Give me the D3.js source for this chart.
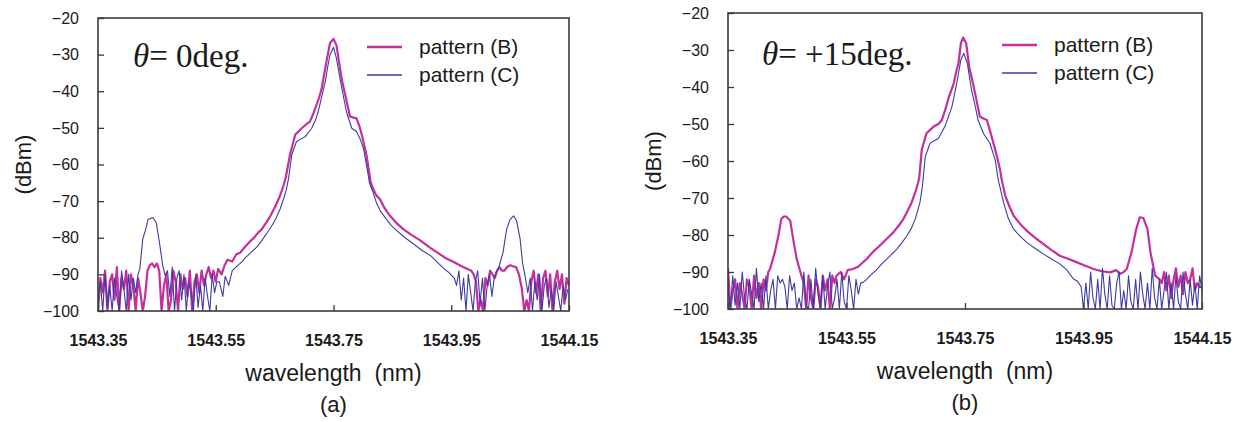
<!DOCTYPE html>
<html>
<head>
<meta charset="utf-8">
<script src="https://cdn.jsdelivr.net/npm/d3@7"></script>
<style>
  body { margin: 0; background: #fff; }
  text { font-family: "Liberation Sans", Arial, sans-serif; fill: #1a1a1a; }
</style>
</head>
<body>
<div id="chart"></div>
<script>
// spectrum samples (nm, dBm)
// noise bursts are written as runs of readings taken every 0.004 nm
var STEP = 0.004;
function run(start, vals) {
    return vals.map((v, i) => [start + i * STEP, v]);
}

var xTicks = [1543.35, 1543.55, 1543.75, 1543.95, 1544.15];
var yTicks = [-20, -30, -40, -50, -60, -70, -80, -90, -100];
var seriesNames = ["pattern (B)", "pattern (C)"];
var panelTitles = ["0deg.", "+15deg."];
var panelTags = ["(a)", "(b)"];

// (a) theta = 0 deg, pattern (B)
var aB = [].concat(
    run(1543.350, [-100,-91,-95,-89,-100,-92,-90,-97,-88,-100,-91,-94,-89,-100,-90,-93,-100,-91]),
    run(1543.422, [-95,-100,-96,-89,-87.5,-87,-88,-87,-89,-100,-93]),
    run(1543.466, [-90,-100,-97,-89,-92,-100,-90,-94,-91,-96,-89,-100,-92,-90,-95,-89,-93,-90,-88,-91,-89,-92]),
    [[1543.554,-88.5],[1543.560,-90],[1543.565,-87.5],[1543.570,-86],[1543.578,-86.5],[1543.585,-84.5],
     [1543.592,-84],[1543.599,-82.6],[1543.607,-81.2],[1543.615,-80],[1543.622,-78.6],[1543.628,-77.7],
     [1543.636,-75.8],[1543.643,-74],[1543.651,-71.5],[1543.659,-68.6],[1543.665,-65.8],[1543.669,-63.5],
     [1543.676,-57.4],[1543.685,-51.9],[1543.696,-50.1],[1543.704,-49],[1543.710,-48.3],[1543.716,-46],
     [1543.721,-43.8],[1543.726,-41.5],[1543.730,-39.2],[1543.734,-35.5],[1543.738,-31.9],[1543.744,-26.9],
     [1543.750,-25.7],[1543.755,-27.4],[1543.761,-33.7],[1543.765,-37.5],[1543.770,-41],[1543.778,-46.9],
     [1543.784,-47.2],[1543.789,-47.4],[1543.794,-49.5],[1543.798,-51.9],[1543.806,-57.4],[1543.813,-64.7],
     [1543.817,-66.5],[1543.823,-68.5],[1543.829,-69.5],[1543.837,-72],[1543.846,-74],[1543.857,-76],
     [1543.869,-77.7],[1543.883,-79.3],[1543.898,-80.8],[1543.912,-82.5],[1543.926,-84],[1543.940,-85.5],
     [1543.955,-86.7],[1543.970,-88],[1543.984,-89]],
    run(1543.988, [-90,-92,-100,-97,-100,-91,-93,-89,-90,-91,-89,-88,-89]),
    [[1544.040,-89],[1544.045,-88],[1544.050,-87.5],[1544.055,-87.8],[1544.060,-88],[1544.065,-90],[1544.070,-94]],
    run(1544.074, [-100,-97,-100,-92,-89,-95,-90,-100,-91,-89,-96,-90,-100,-92,-89,-94,-90,-98,-91,-93])
);

// (a) theta = 0 deg, pattern (C)
var aC = [].concat(
    run(1543.350, [-97,-92,-100,-90,-99,-93,-100,-91,-96,-100,-89,-94,-100,-90,-97,-91,-95,-90]),
    [[1543.421,-88.5],[1543.426,-80.4],[1543.431,-77.7],[1543.435,-75],[1543.443,-74.5],[1543.449,-75.9],
     [1543.455,-82],[1543.460,-87.6],[1543.464,-90.3]],
    run(1543.468, [-89,-96,-88,-100,-91,-89,-97,-90,-100,-92,-95,-100,-90,-99,-93,-100,-91,-96,-100,-90,-95,-92]),
    [[1543.556,-92],[1543.562,-96],[1543.566,-90.5],[1543.572,-93],[1543.578,-89],[1543.587,-87.6],
     [1543.595,-86.5],[1543.600,-85.5],[1543.610,-84],[1543.620,-82.5],[1543.628,-80.8],[1543.638,-78.5],
     [1543.645,-76.8],[1543.652,-74.8],[1543.659,-72.3],[1543.665,-69.5],[1543.670,-66.8],[1543.674,-63.5],
     [1543.679,-57.4],[1543.687,-53.8],[1543.695,-53],[1543.702,-52.4],[1543.713,-50.1],[1543.719,-48],
     [1543.724,-45.6],[1543.730,-41.5],[1543.736,-37.4],[1543.740,-33.5],[1543.744,-30.1],[1543.750,-28],
     [1543.755,-31],[1543.762,-37.4],[1543.767,-41.5],[1543.772,-45.6],[1543.781,-50.1],[1543.789,-51],
     [1543.795,-53],[1543.801,-55.6],[1543.809,-62.9],[1543.811,-65],[1543.817,-67.5],[1543.823,-70.5],
     [1543.830,-72.8],[1543.840,-75],[1543.848,-76.6],[1543.857,-78],[1543.870,-79.8],[1543.886,-81.7],
     [1543.900,-83.4],[1543.915,-84.9],[1543.927,-86.8],[1543.938,-88.5],[1543.946,-89.5],[1543.955,-91]],
    run(1543.959, [-93,-89,-97,-91,-100,-90,-95,-100,-92,-89,-98,-91,-100,-93,-90,-96,-91,-89]),
    [[1544.030,-88.5],[1544.038,-84],[1544.044,-77.7],[1544.050,-75],[1544.056,-74],[1544.061,-75.4],
     [1544.067,-80.4],[1544.071,-86.7],[1544.076,-91]],
    run(1544.080, [-95,-91,-100,-92,-97,-90,-100,-93,-91,-99,-94,-100,-92,-96,-100,-93,-97,-94])
);

// (b) theta = +15 deg, pattern (B)
var bB = [].concat(
    run(1543.350, [-89,-100,-95,-92,-100,-93,-96,-100,-92,-94,-100,-91,-97,-93,-100,-92,-95,-90]),
    [[1543.421,-89.2],[1543.429,-84.7],[1543.435,-80.2],[1543.440,-75.7],[1543.444,-75],[1543.448,-75],
     [1543.455,-76.1],[1543.460,-81.1],[1543.466,-86.5],[1543.474,-91]],
    run(1543.478, [-93,-100,-91,-97,-100,-92,-94,-100,-91,-95,-92,-100,-91,-93]),
    [[1543.533,-91],[1543.540,-90],[1543.546,-92],[1543.552,-89.5],[1543.561,-89.2],[1543.570,-88.5],
     [1543.577,-87.5],[1543.584,-86.5],[1543.595,-84.5],[1543.606,-82.9],[1543.618,-81],[1543.629,-79.3],
     [1543.638,-77.5],[1543.646,-75.7],[1543.653,-73.5],[1543.660,-71.2],[1543.666,-68.5],[1543.671,-65.8],
     [1543.673,-64.2],[1543.677,-57],[1543.685,-52.5],[1543.697,-50.7],[1543.705,-50],[1543.711,-48.9],
     [1543.717,-46],[1543.722,-43.1],[1543.731,-39],[1543.735,-36],[1543.739,-33.6],[1543.743,-28.2],
     [1543.747,-26.6],[1543.752,-28.2],[1543.757,-34.5],[1543.762,-38],[1543.767,-41.7],[1543.775,-48],
     [1543.781,-48.5],[1543.787,-48.9],[1543.795,-53.4],[1543.804,-58.8],[1543.809,-62.2],[1543.812,-65.1],
     [1543.818,-69.4],[1543.825,-72.3],[1543.832,-74.8],[1543.843,-77],[1543.854,-78.8],[1543.868,-80.7],
     [1543.882,-82.4],[1543.896,-84.1],[1543.910,-85.6],[1543.925,-86.5],[1543.939,-87.4],[1543.953,-88.3],
     [1543.967,-89.2],[1543.981,-89.8],[1543.995,-90.1],[1544.005,-89.5],[1544.012,-90.5],[1544.017,-90.1],
     [1544.023,-89.2],[1544.031,-84.7],[1544.039,-78.4],[1544.045,-75.2],[1544.051,-75.4],[1544.058,-78.4],
     [1544.063,-84.7],[1544.071,-91],[1544.078,-91.9]],
    run(1544.082, [-93,-90,-95,-91,-97,-92,-89,-94,-91,-96,-90,-93,-92,-89,-95,-93,-94,-94])
);

// (b) theta = +15 deg, pattern (C)
var bC = [].concat(
    run(1543.350, [-94,-100,-91,-99,-93,-100,-90,-97,-100,-92,-96,-100,-89,-98,-93,-100,-91,-100,-95,-92,
                   -100,-91,-93,-92,-94,-100,-91,-95,-93,-100,-97,-100,-90,-99,-100,-92,-100,-89,-96,-100,
                   -91,-100,-94,-90,-100,-97,-92,-100,-90,-98,-100,-91,-95,-100,-92,-96,-93]),
    [[1543.578,-92.8],[1543.584,-92],[1543.590,-91],[1543.600,-89.5],[1543.612,-87.4],[1543.624,-85.6],
     [1543.635,-83.8],[1543.644,-82],[1543.652,-80.2],[1543.660,-78],[1543.666,-75.7],[1543.670,-73.5],
     [1543.674,-71.2],[1543.678,-67],[1543.681,-62],[1543.683,-58.8],[1543.691,-55.2],[1543.698,-54.5],
     [1543.705,-53.9],[1543.716,-50.7],[1543.722,-48],[1543.728,-45.3],[1543.736,-39],[1543.743,-32.7],
     [1543.748,-30.9],[1543.754,-33.6],[1543.761,-40.8],[1543.767,-45],[1543.772,-48.9],[1543.781,-52.5],
     [1543.792,-55.2],[1543.801,-59.7],[1543.806,-65.1],[1543.809,-67],[1543.815,-71.2],[1543.823,-75.5],
     [1543.832,-78.4],[1543.843,-80.3],[1543.854,-82],[1543.868,-83.6],[1543.882,-85.1],[1543.896,-86.5],
     [1543.910,-87.8],[1543.922,-89.5],[1543.933,-91.9],[1543.940,-92.5],[1543.946,-94]],
    run(1543.950, [-100,-93,-100,-90,-97,-100,-92,-100,-89,-96,-100,-91,-99,-100,-93,-90,-100,-95,-100,-91,
                   -98,-100,-92,-100,-90,-96,-100,-93,-100,-89,-97,-100,-92,-100,-95,-90,-100,-93,-100,-91,
                   -98,-100,-90,-96,-100,-92,-99,-93,-100,-91,-95])
);

var colorB = "#c42f9c";
var colorC = "#3b3ba6";

var svgWidth = 1236;
var svgHeight = 422;

var svg = d3.select("#chart")
    .append("svg")
    .attr("width", svgWidth)
    .attr("height", svgHeight);

var panels = [
    {left: 98, right: 569, top: 18, bottom: 311, titleX: 133, titleY: 67, legX: 367, legY: 47, data: [aB, aC]},
    {left: 728, right: 1202, top: 13, bottom: 309, titleX: 762, titleY: 65, legX: 1002, legY: 45, data: [bB, bC]}
];

panels.forEach((p, k) => {
    var xScale = d3.scaleLinear()
        .domain([1543.35, 1544.15])
        .range([p.left, p.right]);
    var yScale = d3.scaleLinear()
        .domain([-100, -20])
        .range([p.bottom, p.top]);

    var g = svg.append("g");

    g.append("clipPath").attr("id", "clip" + k)
        .append("rect")
        .attr("x", p.left).attr("y", p.top)
        .attr("width", p.right - p.left).attr("height", p.bottom - p.top);

    var line = d3.line()
        .x(d => xScale(d[0]))
        .y(d => yScale(d[1]));

    var plot = g.append("g").attr("clip-path", `url(#clip${k})`);
    plot.append("path")
        .datum(p.data[0])
        .attr("d", line)
        .attr("fill", "none")
        .attr("stroke", colorB)
        .attr("stroke-width", 2.2)
        .attr("stroke-linejoin", "round");
    plot.append("path")
        .datum(p.data[1])
        .attr("d", line)
        .attr("fill", "none")
        .attr("stroke", colorC)
        .attr("stroke-width", 1.1)
        .attr("stroke-linejoin", "round");

    // frame
    g.append("rect")
        .attr("x", p.left).attr("y", p.top)
        .attr("width", p.right - p.left).attr("height", p.bottom - p.top)
        .attr("fill", "none")
        .attr("stroke", "#3a3a3a")
        .attr("stroke-width", 1.6);

    // axes, ticks pointing inwards
    var yAxis = d3.axisLeft(yScale)
        .tickValues(yTicks)
        .tickSizeInner(-6)
        .tickSizeOuter(0)
        .tickPadding(19)
        .tickFormat(d3.format("d"));
    var yg = g.append("g")
        .attr("transform", `translate(${p.left},0)`)
        .call(yAxis);
    yg.select(".domain").remove();
    yg.selectAll("line").attr("stroke", "#3a3a3a").attr("stroke-width", 1.3);
    yg.selectAll("text")
        .style("font-size", "16px")
        .style("font-family", "'Liberation Sans', Arial, sans-serif")
        .attr("fill", "#111");

    var xAxis = d3.axisBottom(xScale)
        .tickValues(xTicks)
        .tickSizeInner(-6)
        .tickSizeOuter(0)
        .tickPadding(24)
        .tickFormat(d3.format(".2f"));
    var xg = g.append("g")
        .attr("transform", `translate(0,${p.bottom})`)
        .call(xAxis);
    xg.select(".domain").remove();
    xg.selectAll("line").attr("stroke", "#3a3a3a").attr("stroke-width", 1.3);
    xg.selectAll("text")
        .style("font-size", "16px")
        .style("font-weight", "bold")
        .style("font-family", "'Liberation Sans', Arial, sans-serif")
        .attr("fill", "#111");

    // axis titles
    var cx = (p.left + p.right) / 2;
    g.append("text")
        .attr("transform", `translate(${p.left - 75},${(p.top + p.bottom) / 2}) rotate(-90)`)
        .attr("dy", "0.35em")
        .style("font-size", "22px")
        .style("text-anchor", "middle")
        .text("(dBm)");
    g.append("text")
        .attr("x", cx)
        .attr("y", p.bottom + 70)
        .style("font-size", "23px")
        .style("text-anchor", "middle")
        .style("white-space", "pre")
        .text("wavelength  (nm)");
    g.append("text")
        .attr("x", cx)
        .attr("y", p.bottom + 101)
        .style("font-size", "22px")
        .style("text-anchor", "middle")
        .text(panelTags[k]);

    // angle label
    var t = g.append("text")
        .attr("x", p.titleX)
        .attr("y", p.titleY)
        .style("font-family", "'Liberation Serif', 'Times New Roman', serif")
        .style("font-size", "33px")
        .style("white-space", "pre");
    t.append("tspan").style("font-style", "italic").text("θ");
    t.append("tspan").text("= " + panelTitles[k]);

    // legend
    seriesNames.forEach((name, i) => {
        var ly = p.legY + i * 28;
        g.append("line")
            .attr("x1", p.legX).attr("x2", p.legX + 35)
            .attr("y1", ly).attr("y2", ly)
            .attr("stroke", i == 0 ? colorB : colorC)
            .attr("stroke-width", i == 0 ? 2.4 : 1.3);
        g.append("text")
            .attr("x", p.legX + 52)
            .attr("y", ly)
            .attr("dy", "0.35em")
            .style("font-size", "21px")
            .text(name);
    });
});
</script>
</body>
</html>
